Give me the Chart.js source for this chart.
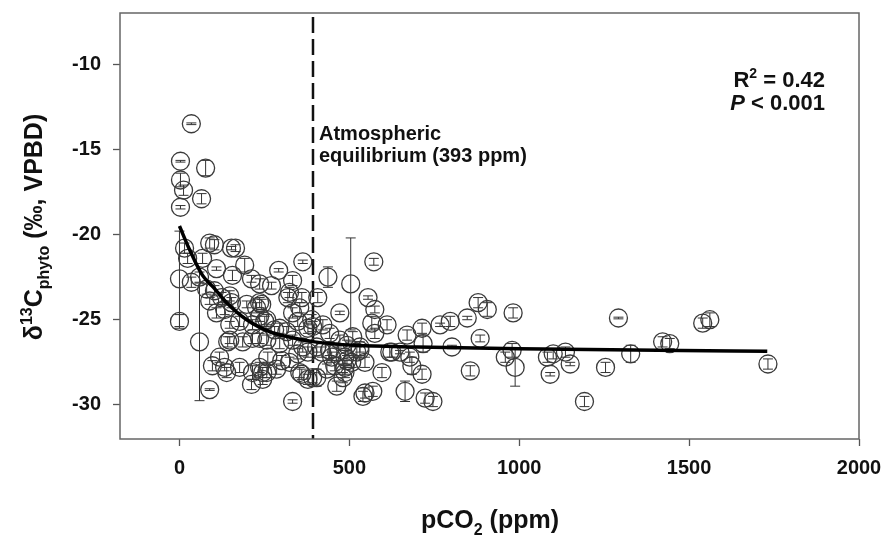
<!DOCTYPE html>
<html>
<head>
<meta charset="utf-8">
<script src="https://cdn.jsdelivr.net/npm/chart.js@4"></script>
<style>
  html, body { margin: 0; padding: 0; background: #fff; }
  canvas { display: block; }
</style>
</head>
<body>
<canvas id="chart" width="888" height="537"></canvas>
<script>
// tick labels
const xTicks = [0, 500, 1000, 1500, 2000];
const yTicks = [-30, -25, -20, -15, -10];

// observations: pCO2 (ppm), d13C phyto and its error
const pco2 = [35, 3, 77, 3, 12, 65, 3, 15, 89, 103, 153, 165, 24, 68, 109, 192, 156, 0, 35, 80,
  212, 236, 89, 124, 153, 198, 236, 0, 59, 109, 148, 177, 215, 148, 186, 215, 118, 97, 133, 177,
  215, 236, 212, 245, 89, 333, 363, 292, 271, 333, 319, 360, 407, 437, 504, 472, 422, 389, 348, 242,
  251, 280, 316, 236, 260, 301, 348, 378, 419, 448, 487, 245, 360, 404, 457, 487, 572, 555, 575, 566,
  611, 575, 670, 714, 717, 767, 797, 802, 493, 531, 507, 546, 596, 625, 649, 678, 684, 714, 664, 723,
  746, 540, 569, 487, 847, 879, 906, 982, 885, 856, 959, 979, 988, 1083, 1100, 1136, 1150, 1091, 1192, 1254,
  1292, 1328, 1422, 1443, 1540, 1561, 1732, 59, 324, 103, 148, 133, 227, 236, 257, 295, 378, 392, 333,
  354, 142, 257, 295, 333, 363, 404, 442, 463, 493, 522, 139, 257, 286, 324, 354, 378, 434, 481, 463,
  392, 546, 442, 472, 510, 531, 619];
const d13c = [-13.5, -15.7, -16.1, -16.8, -17.4, -17.9, -18.4, -20.8, -20.5, -20.6, -20.8, -20.8, -21.4, -21.4, -22.0, -21.8, -22.4, -22.6, -22.8, -23.2,
  -22.6, -22.9, -23.9, -23.7, -24.0, -24.1, -24.0, -25.1, -26.3, -24.6, -25.3, -25.1, -25.3, -26.2, -26.3, -26.1, -27.2, -27.7, -27.8, -27.8,
  -28.1, -27.8, -28.8, -28.5, -29.1, -29.8, -21.6, -22.1, -23.0, -22.7, -23.7, -23.7, -23.7, -22.5, -22.9, -24.6, -25.3, -25.0, -25.1, -24.1,
  -25.1, -25.6, -25.7, -26.1, -27.2, -27.4, -27.0, -26.9, -26.9, -27.2, -27.2, -28.1, -28.2, -28.4, -27.7, -27.8, -21.6, -23.7, -24.4, -25.2,
  -25.3, -25.8, -25.9, -25.5, -26.4, -25.3, -25.1, -26.6, -26.5, -26.8, -27.5, -27.5, -28.1, -26.9, -26.9, -27.2, -27.7, -28.2, -29.2, -29.6,
  -29.8, -29.5, -29.2, -28.1, -24.9, -24.0, -24.4, -24.6, -26.1, -28.0, -27.2, -26.8, -27.8, -27.2, -27.0, -26.9, -27.6, -28.2, -29.8, -27.8,
  -24.9, -27.0, -26.3, -26.4, -25.2, -25.0, -27.6, -22.5, -23.4, -23.3, -23.6, -24.4, -24.3, -24.8, -25.0, -25.5, -25.5, -25.4, -24.6,
  -24.3, -26.3, -26.2, -26.4, -26.2, -26.6, -26.6, -26.8, -26.9, -27.4, -26.9, -28.1, -28.1, -27.9, -27.5, -28.1, -28.5, -27.9, -28.4, -28.9,
  -28.4, -29.3, -25.8, -26.2, -26.0, -26.6, -26.9];
const d13cErr = [0.05, 0.05, 0.45, 0.4, 0.3, 0.3, 0.1, 0.3, 0.3, 0.3, 0.1, 0.2, 0.3, 0.3, 0.1, 0.4, 0.3, 2.8, 0.3, 0.3,
  0.2, 0.3, 0.2, 0.3, 0.3, 0.2, 0.3, 0.4, 3.45, 0.3, 0.2, 0.3, 0.3, 0.2, 0.3, 0.3, 0.3, 0.3, 0.2, 0.3,
  0.4, 0.3, 0.3, 0.3, 0.05, 0.1, 0.1, 0.1, 0.2, 0.3, 0.3, 0.3, 0.3, 0.6, 2.7, 0.1, 0.3, 0.3, 0.3, 0.3,
  0.3, 0.2, 0.3, 0.3, 0.3, 0.3, 0.3, 0.3, 0.3, 0.3, 0.4, 0.3, 0.3, 0.5, 0.3, 0.4, 0.2, 0.1, 0.2, 0.4,
  0.3, 0.3, 0.3, 0.3, 0.5, 0.1, 0.3, 0.1, 0.3, 0.3, 0.3, 0.3, 0.3, 0.3, 0.1, 0.3, 0.5, 0.3, 0.6, 0.3,
  0.3, 0.3, 0.3, 0.3, 0.1, 0.3, 0.4, 0.3, 0.2, 0.3, 0.3, 0.4, 1.1, 0.3, 0.3, 0.3, 0.1, 0.1, 0.3, 0.3,
  0.05, 0.5, 0.3, 0.3, 0.3, 0.4, 0.3, 0.3, 0.3, 0.3, 0.3, 0.3, 0.3, 0.3, 0.3, 0.3, 0.3, 0.3, 0.3,
  0.3, 0.3, 0.3, 0.3, 0.3, 0.3, 0.3, 0.3, 0.3, 0.3, 0.3, 0.3, 0.3, 0.3, 0.3, 0.3, 0.3, 0.3, 0.3, 0.3,
  0.3, 0.3, 0.3, 0.3, 0.3, 0.3, 0.3];

// fitted curve
const fitX = [0, 30, 68, 100, 139, 198, 265, 319, 398, 516, 700, 1000, 1475, 1730];
const fitY = [-19.5, -20.9, -22.4, -23.1, -24.0, -25.0, -25.7, -26.0, -26.3, -26.5, -26.6, -26.7, -26.8, -26.85];

const atmEq = 393;

const FONT = '"Liberation Sans", Arial, sans-serif';

// draw a run of text pieces, each with its own size and baseline shift
function drawRich(ctx, parts, x, y) {
  parts.forEach(p => {
    ctx.font = (p.style || 'bold') + ' ' + p.size + 'px ' + FONT;
    ctx.fillText(p.t, x, y + (p.dy || 0));
    x += ctx.measureText(p.t).width;
  });
}
function richWidth(ctx, parts) {
  let w = 0;
  parts.forEach(p => {
    ctx.font = (p.style || 'bold') + ' ' + p.size + 'px ' + FONT;
    w += ctx.measureText(p.t).width;
  });
  return w;
}

const extras = {
  id: 'extras',
  beforeDatasetsDraw(chart) {
    const { ctx, chartArea: a, scales: { x, y } } = chart;
    ctx.save();
    // dashed line for atmospheric equilibrium
    const px = x.getPixelForValue(atmEq);
    ctx.strokeStyle = '#111';
    ctx.lineWidth = 2.5;
    ctx.setLineDash([16, 6]);
    ctx.beginPath();
    ctx.moveTo(px, a.top + 4);
    ctx.lineTo(px, a.bottom);
    ctx.stroke();
    ctx.setLineDash([]);
    // error bars
    ctx.strokeStyle = '#333';
    ctx.lineWidth = 1;
    pco2.forEach((v, i) => {
      const cx = x.getPixelForValue(v);
      const y1 = y.getPixelForValue(d13c[i] + d13cErr[i]);
      const y2 = y.getPixelForValue(d13c[i] - d13cErr[i]);
      ctx.beginPath();
      ctx.moveTo(cx, y1); ctx.lineTo(cx, y2);
      ctx.moveTo(cx - 5, y1); ctx.lineTo(cx + 5, y1);
      ctx.moveTo(cx - 5, y2); ctx.lineTo(cx + 5, y2);
      ctx.stroke();
    });
    ctx.restore();
  },
  afterDraw(chart) {
    const { ctx, chartArea: a, scales: { x } } = chart;
    ctx.save();
    // frame
    ctx.strokeStyle = '#666';
    ctx.lineWidth = 1.5;
    ctx.strokeRect(a.left, a.top, a.right - a.left, a.bottom - a.top);
    ctx.fillStyle = '#111';
    ctx.textBaseline = 'alphabetic';
    // annotation by dashed line
    const px = x.getPixelForValue(atmEq);
    ctx.font = 'bold 20px ' + FONT;
    ctx.fillText('Atmospheric', px + 6, 140);
    ctx.fillText('equilibrium (393 ppm)', px + 6, 162);
    // statistics
    const r2 = [{ t: 'R', size: 22 }, { t: '2', size: 14, dy: -9 }, { t: ' = 0.42', size: 22 }];
    drawRich(ctx, r2, 825 - richWidth(ctx, r2), 87);
    const pv = [{ t: 'P', size: 22, style: 'italic bold' }, { t: ' < 0.001', size: 22 }];
    drawRich(ctx, pv, 825 - richWidth(ctx, pv), 110);
    // x title
    const xt = [{ t: 'pCO', size: 25 }, { t: '2', size: 16, dy: 7 }, { t: ' (ppm)', size: 25 }];
    drawRich(ctx, xt, 490 - richWidth(ctx, xt) / 2, 528);
    // y title
    const yt = [{ t: 'δ', size: 25 }, { t: '13', size: 16, dy: -10 }, { t: 'C', size: 25 },
      { t: 'phyto', size: 16, dy: 7 }, { t: ' (‰, VPBD)', size: 25 }];
    ctx.translate(42, 227);
    ctx.rotate(-Math.PI / 2);
    drawRich(ctx, yt, -richWidth(ctx, yt) / 2, 0);
    ctx.restore();
  }
};

new Chart(document.getElementById('chart'), {
  data: {
    datasets: [
      {
        type: 'line',
        data: fitX.map((v, i) => ({ x: v, y: fitY[i] })),
        borderColor: '#000',
        borderWidth: 3.5,
        pointRadius: 0,
        tension: 0.4,
        cubicInterpolationMode: 'monotone',
        fill: false
      },
      {
        type: 'scatter',
        data: pco2.map((v, i) => ({ x: v, y: d13c[i] })),
        pointRadius: 9,
        pointBorderWidth: 1.3,
        pointBorderColor: '#3a3a3a',
        pointBackgroundColor: 'rgba(0,0,0,0)'
      }
    ]
  },
  options: {
    responsive: false,
    animation: false,
    events: [],
    layout: { padding: { top: 13, right: 29, left: 0, bottom: 0 } },
    plugins: { legend: { display: false }, tooltip: { enabled: false } },
    scales: {
      x: {
        type: 'linear',
        min: -175,
        max: 2000,
        afterBuildTicks: s => { s.ticks = xTicks.map(v => ({ value: v })); },
        afterFit: s => { s.height = 98; s.paddingLeft = 0; s.paddingRight = 0; },
        grid: { drawOnChartArea: false, tickLength: 7, color: '#555', tickWidth: 1.3 },
        border: { display: false },
        ticks: { color: '#111', padding: 10, maxRotation: 0, callback: v => String(v),
          font: { family: FONT, size: 20, weight: 'bold' } }
      },
      y: {
        type: 'linear',
        min: -32,
        max: -7,
        afterBuildTicks: s => { s.ticks = yTicks.map(v => ({ value: v })); },
        afterFit: s => { s.width = 120; s.paddingTop = 0; s.paddingBottom = 0; },
        grid: { drawOnChartArea: false, tickLength: 7, color: '#555', tickWidth: 1.3 },
        border: { display: false },
        ticks: { color: '#111', padding: 12, callback: v => String(v),
          font: { family: FONT, size: 20, weight: 'bold' } }
      }
    }
  },
  plugins: [extras]
});
</script>
</body>
</html>
